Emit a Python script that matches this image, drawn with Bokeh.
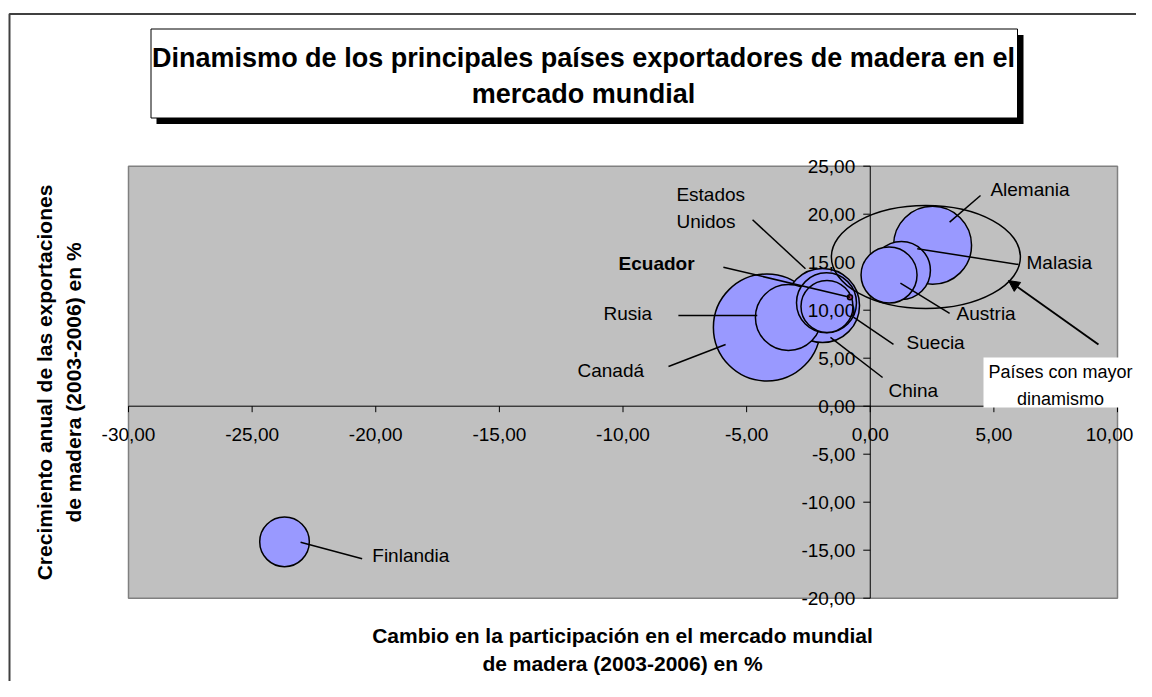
import math
from bokeh.plotting import figure
from bokeh.models import Range1d, Arrow, NormalHead, ColumnDataSource
from bokeh.core.properties import value
from bokeh.embed import file_html
from bokeh.resources import INLINE

# ---------------- data ----------------
paises = ["Canadá", "Alemania", "China", "Rusia", "Estados Unidos",
          "Malasia", "Austria", "Suecia", "Finlandia", "Ecuador"]
cambio_participacion = [-4.18, 2.52, -1.93, -3.31, -1.77, 1.26, 0.76, -1.75, -23.69, -0.82]
crecimiento_export = [8.20, 16.76, 10.49, 9.24, 10.77, 14.14, 13.66, 10.39, -14.13, 11.35]
tamano_export = [100.0, 53.1, 47.8, 38.0, 31.4, 29.4, 27.4, 23.6, 21.5, 0.22]

x_ticks = [-30, -25, -20, -15, -10, -5, 0, 5, 10]
y_ticks = [-20, -15, -10, -5, 0, 5, 10, 15, 20, 25]
x_tick_labels = [f"{v:.2f}".replace(".", ",") for v in x_ticks]
y_tick_labels = [f"{v:.2f}".replace(".", ",") for v in y_ticks]

titulo = ["Dinamismo de los principales países exportadores de madera en el",
          "mercado mundial"]
titulo_x = ["Cambio en la participación en el mercado mundial",
            "de madera (2003-2006) en %"]
titulo_y = ["Crecimiento anual de las exportaciones",
            "de madera (2003-2006) en %"]
nota = ["Países con mayor", "dinamismo"]

# ---------------- layout (pixels of the reference picture) ----------------
W, H = 1136, 681
PX_XMIN, PX_XMAX = 128.0, 1117.0     # x = -30 .. 10
PX_YMAX, PX_YMIN = 165.7, 597.7      # y = 25 .. -20
xmin, xmax = x_ticks[0], x_ticks[-1]
ymin, ymax = y_ticks[0], y_ticks[-1]
sx = (PX_XMAX - PX_XMIN) / (xmax - xmin)
sy = (PX_YMIN - PX_YMAX) / (ymax - ymin)
x_start = xmin - PX_XMIN / sx
x_end = x_start + W / sx
y_end = ymax + PX_YMAX / sy
y_start = y_end - H / sy


def X(px):
    return x_start + px / sx


def Y(py):
    return y_end - py / sy


FONT = value("Liberation Sans")

p = figure(width=W, height=H, x_range=Range1d(x_start, x_end),
           y_range=Range1d(y_start, y_end), output_backend="svg",
           toolbar_location=None, x_axis_type=None, y_axis_type=None,
           min_border=0, title=None)
p.outline_line_color = None
p.background_fill_color = "white"
p.border_fill_color = "white"

# outer chart border (left and top visible)
p.line([X(9), X(9), X(1160)], [Y(700), Y(13.5), Y(13.5)], line_color="#404040", line_width=2)

# title box with shadow
p.quad(left=X(156), right=X(1023), top=Y(34.5), bottom=Y(123.5), fill_color="black", line_color=None)
p.quad(left=X(150.5), right=X(1017), top=Y(28.5), bottom=Y(117.5), fill_color="white",
       line_color="black", line_width=1)
p.text(x=[X(583)] * 2, y=[Y(57), Y(93)], text=titulo, text_font=FONT, text_font_size="27px",
       text_font_style="bold", text_align="center", text_baseline="middle", text_color="black")

# plot area
p.quad(left=xmin, right=xmax, bottom=ymin, top=ymax, fill_color="#C0C0C0",
       line_color="#808080", line_width=1.5)

# axes crossing at zero
p.segment(x0=[xmin], y0=[0], x1=[xmax], y1=[0], line_color="black", line_width=1)
p.segment(x0=[0], y0=[ymin], x1=[0], y1=[ymax], line_color="black", line_width=1)
p.segment(x0=x_ticks, y0=[0] * len(x_ticks), x1=x_ticks, y1=[-6 / sy] * len(x_ticks),
          line_color="black", line_width=1)
p.segment(x0=[-7 / sx] * len(y_ticks), y0=y_ticks, x1=[0] * len(y_ticks), y1=y_ticks,
          line_color="black", line_width=1)

# bubbles (largest first)
orden = sorted(range(len(paises)), key=lambda i: -tamano_export[i])
max_diam = 107.0
src = ColumnDataSource(dict(
    x=[cambio_participacion[i] for i in orden],
    y=[crecimiento_export[i] for i in orden],
    size=[max_diam * math.sqrt(tamano_export[i] / max(tamano_export)) for i in orden],
    color=["#993366" if paises[i] == "Ecuador" else "#9999FF" for i in orden],
))
p.scatter(x="x", y="y", size="size", fill_color="color", line_color="black",
          line_width=1.5, source=src)

# tick labels (last x label nudged so it stays inside the canvas)
xoffs = [0] * (len(x_ticks) - 1) + [-8]
p.text(x=x_ticks, y=[0] * len(x_ticks), text=x_tick_labels, x_offset=xoffs, y_offset=28,
       text_font=FONT, text_font_size="19px", text_align="center", text_baseline="middle",
       text_color="black")
p.text(x=[0] * len(y_ticks), y=y_ticks, text=y_tick_labels, x_offset=-15, text_font=FONT,
       text_font_size="19px", text_align="right", text_baseline="middle", text_color="black")

# highlighted group
p.ellipse(x=[2.25], y=[15.54], width=[189 / sx], height=[103 / sy], fill_color=None,
          line_color="black", line_width=1.5)

# leader lines
ie = paises.index("Ecuador")
lx0 = [-4.76, -5.94, -7.76, -8.16, 0.50, 0.94, 3.21, 6.00, 4.46, -20.55]
ly0 = [19.42, 14.48, 9.45, 4.14, 2.99, 6.43, 9.66, 14.76, 21.95, -15.90]
lx1 = [-2.62, cambio_participacion[ie], -4.57, -5.85, -1.61, -0.68, 1.22, 1.90, 3.21, -23.04]
ly1 = [14.32, crecimiento_export[ie], 9.45, 6.43, 7.16, 9.27, 12.81, 16.40, 19.17, -14.17]
p.segment(x0=lx0, y0=ly0, x1=lx1, y1=ly1, line_color="black", line_width=1.5)

# country labels
lab_text = ["Estados", "Unidos", "Rusia", "Canadá", "China", "Suecia", "Austria",
            "Malasia", "Alemania", "Finlandia"]
lab_x = [-7.84, -7.84, -10.79, -11.84, 0.74, 1.47, 3.49, 6.32, 4.86, -20.14]
lab_y = [22.02, 19.24, 9.63, 3.72, 1.64, 6.67, 9.63, 15.00, 22.54, -15.55]
p.text(x=lab_x, y=lab_y, text=lab_text, text_font=FONT, text_font_size="19px",
       text_align="left", text_baseline="middle", text_color="black")
p.text(x=[-10.18], y=[14.83], text=["Ecuador"], text_font=FONT, text_font_size="19px",
       text_font_style="bold", text_align="left", text_baseline="middle", text_color="black")

# arrow to the group
p.add_layout(Arrow(end=NormalHead(size=11, fill_color="black", line_color="black"),
                   x_start=9.23, y_start=6.43, x_end=5.59, y_end=13.09,
                   line_color="black", line_width=2))

# note box
p.quad(left=X(983), right=X(1160), top=Y(357), bottom=Y(407), fill_color="white", line_color=None)
p.text(x=[X(1060)] * 2, y=[Y(371), Y(398)], text=nota, text_font=FONT, text_font_size="18px",
       text_align="center", text_baseline="middle", text_color="black")

# axis titles
p.text(x=[X(622)] * 2, y=[Y(635), Y(663)], text=titulo_x, text_font=FONT,
       text_font_size="21px", text_font_style="bold", text_align="center",
       text_baseline="middle", text_color="black")
p.text(x=[X(44), X(73)], y=[Y(382)] * 2, text=titulo_y, angle=math.pi / 2, text_font=FONT,
       text_font_size="21px", text_font_style="bold", text_align="center",
       text_baseline="middle", text_color="black")

open("out.html", "w").write(file_html(p, INLINE))
